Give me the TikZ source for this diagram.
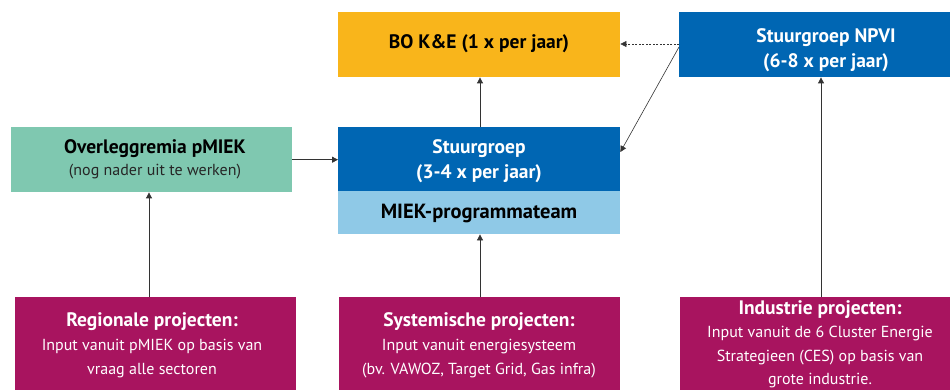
\documentclass[tikz,border=0pt]{standalone}
\usepackage{fontspec}
\setmainfont{PT Sans}
\usetikzlibrary{arrows.meta}
\definecolor{boy}{HTML}{F9B51B}
\definecolor{rblue}{HTML}{0066B3}
\definecolor{lblue}{HTML}{8FC9E7}
\definecolor{mgreen}{HTML}{7FC8B0}
\definecolor{mag}{HTML}{A8145F}
\definecolor{arr}{HTML}{333333}
\begin{document}
\begin{tikzpicture}[x=1pt,y=-1pt,
  box/.style={draw=none,inner sep=0pt,anchor=north west},
  conn/.style={draw=arr,line width=0.8pt,-{Triangle[length=6pt,width=6pt]}},
  ttl/.style={font=\fontsize{19.5}{25}\selectfont\bfseries},
  sub/.style={font=\fontsize{16}{24}\selectfont}]
\useasboundingbox (0,0) rectangle (950,390);
% boxes
\node[box,fill=boy,minimum width=282pt,minimum height=65pt] (bo) at (338,12) {};
\node[box,fill=rblue,minimum width=271pt,minimum height=65pt] (npvi) at (679,12) {};
\node[box,fill=rblue,minimum width=282pt,minimum height=64pt] (sg) at (338,127) {};
\node[box,fill=lblue,minimum width=282pt,minimum height=43pt] (miek) at (338,191) {};
\node[box,fill=mgreen,minimum width=281pt,minimum height=65pt] (og) at (11,127) {};
\node[box,fill=mag,minimum width=281pt,minimum height=93pt] (reg) at (15,297) {};
\node[box,fill=mag,minimum width=281pt,minimum height=93pt] (sys) at (339,297) {};
\node[box,fill=mag,minimum width=271pt,minimum height=93pt] (ind) at (680,297) {};
% texts
\node[ttl,text=black] (tbo) at (479,44) {BO K\&E (1 x per jaar)};
\node[ttl,text=white,align=center] (tnpvi) at (826,50) {Stuurgroep NPVI\\(6-8 x per jaar)};
\node[ttl,text=white,align=center] (tsg) at (479,161) {Stuurgroep\\(3-4 x per jaar)};
\node[ttl,text=black,font=\fontsize{20.5}{25}\selectfont\bfseries] (tmiek) at (479,213) {MIEK-programmateam};
\node[ttl,text=black] (tog) at (155,149) {Overleggremia pMIEK};
\node[sub,text=black!85] (tog2) at (155,172) {(nog nader uit te werken)};
\node[ttl,text=white] (treg) at (152,322) {Regionale projecten:};
\node[sub,text=white,align=center] (treg2) at (152,359) {Input vanuit pMIEK op basis van\\vraag alle sectoren};
\node[ttl,text=white] (tsys) at (479,322) {Systemische projecten:};
\node[sub,text=white,align=center] (tsys2) at (479,359) {Input vanuit energiesysteem\\(bv. VAWOZ, Target Grid, Gas infra)};
\node[ttl,text=white] (tind) at (820,310) {Industrie projecten:};
\node[sub,text=white,align=center,font=\fontsize{16}{23.5}\selectfont] (tind2) at (820,357) {Input vanuit de 6 Cluster Energie\\Strategieen (CES) op basis van\\grote industrie.};
% connectors
\draw[conn] (og.east) -- (og.east -| sg.west);
\draw[conn] (reg.north -| 149,0) -- (og.south -| 149,0);
\draw[conn] (sys.north -| 480,0) -- (miek.south -| 480,0);
\draw[conn] (ind.north -| 821,0) -- (npvi.south -| 821,0);
\draw[conn] (sg.north -| 480,0) -- (bo.south -| 480,0);
\draw[conn,line width=0.6pt,dashed,dash pattern=on 2pt off 1.5pt] (npvi.west |- 0,44) -- (bo.east |- 0,44);
\draw[conn,line width=0.6pt] (npvi.west |- 0,47) -- (sg.east |- 0,152);
\end{tikzpicture}
\end{document}
